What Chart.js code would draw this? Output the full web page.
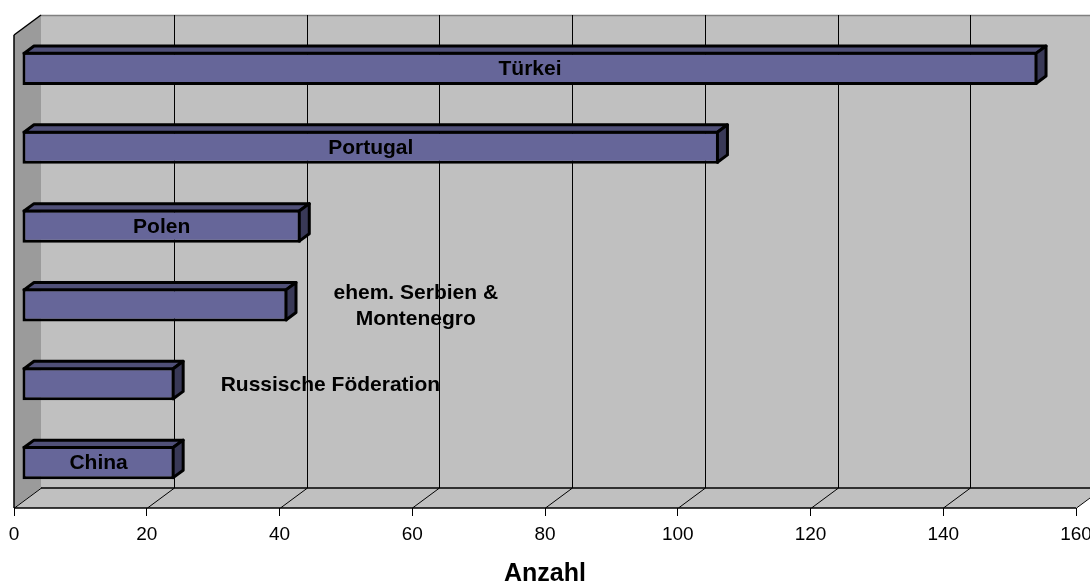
<!DOCTYPE html>
<html>
<head>
<meta charset="utf-8">
<title>Anzahl nach Staatsangehörigkeit</title>
<script src="https://cdn.jsdelivr.net/npm/chart.js@4.4.1/dist/chart.umd.min.js"></script>
<style>
    html, body { margin: 0; padding: 0; background: #fff; overflow: hidden; }
    #wrap { width: 1120px; height: 600px; }
</style>
</head>
<body>
<div id="wrap"><canvas id="chart" width="1120" height="600"></canvas></div>
<script>
// Chart data
const categories = ['Türkei', 'Portugal', 'Polen', ['ehem. Serbien &', 'Montenegro'], 'Russische Föderation', 'China'];
const values = [153, 105, 42, 40, 23, 23];
const xTicks = [0, 20, 40, 60, 80, 100, 120, 140, 160];
const axisTitle = 'Anzahl';

const FONT = '"Liberation Sans", Arial, sans-serif';

// 3D look: wall depth, bar position inside the depth, bar depth
const WALL_DX = 27, WALL_DY = 20;
const BAR_OFF_X = 8, BAR_OFF_Y = 6;
const BAR_DX = 10, BAR_DY = 7.4;

const WALL = '#c0c0c0';
const SIDE_WALL = '#9b9b9b';
const BAR_FRONT = '#666699';
const BAR_TOP = '#505078';
const BAR_SIDE = '#393957';

function poly(ctx, pts) {
    ctx.beginPath();
    ctx.moveTo(pts[0][0], pts[0][1]);
    for (let i = 1; i < pts.length; i++) ctx.lineTo(pts[i][0], pts[i][1]);
    ctx.closePath();
}

function line(ctx, x1, y1, x2, y2) {
    ctx.beginPath();
    ctx.moveTo(x1, y1);
    ctx.lineTo(x2, y2);
    ctx.stroke();
}

const wallsPlugin = {
    id: 'walls',
    beforeDraw(chart) {
        const { ctx, chartArea: a } = chart;
        const x = chart.scales.x;
        const x0 = x.getPixelForValue(xTicks[0]);
        const x1 = x.getPixelForValue(xTicks[xTicks.length - 1]);
        const top = a.top, bottom = a.bottom;

        ctx.save();
        // back wall
        ctx.fillStyle = WALL;
        ctx.fillRect(x0 + WALL_DX, top - WALL_DY, x1 - x0, bottom - top);
        // floor
        poly(ctx, [[x0, bottom], [x0 + WALL_DX, bottom - WALL_DY], [x1 + WALL_DX, bottom - WALL_DY], [x1, bottom]]);
        ctx.fill();
        // side wall
        ctx.fillStyle = SIDE_WALL;
        poly(ctx, [[x0, top], [x0 + WALL_DX, top - WALL_DY], [x0 + WALL_DX, bottom - WALL_DY], [x0, bottom]]);
        ctx.fill();

        // top edge of back wall
        ctx.strokeStyle = '#808080';
        ctx.lineWidth = 1.5;
        line(ctx, x0 + WALL_DX, top - WALL_DY + 0.5, x1 + WALL_DX, top - WALL_DY + 0.5);

        // gridlines on back wall and floor
        ctx.strokeStyle = '#000';
        ctx.lineWidth = 1;
        xTicks.forEach(v => {
            const px = Math.round(x.getPixelForValue(v)) + 0.5;
            if (v !== xTicks[0]) line(ctx, px + WALL_DX, top - WALL_DY, px + WALL_DX, bottom - WALL_DY);
            line(ctx, px, bottom, px + WALL_DX, bottom - WALL_DY);
        });

        // floor edges
        ctx.lineWidth = 1.5;
        line(ctx, x0 + WALL_DX, bottom - WALL_DY, x1 + WALL_DX, bottom - WALL_DY);
        line(ctx, x0, bottom, x1, bottom);
        // side wall edges
        line(ctx, x0, top, x0 + WALL_DX, top - WALL_DY);
        line(ctx, x0, top, x0, bottom);
        ctx.restore();
    }
};

const bars3dPlugin = {
    id: 'bars3d',
    beforeDatasetsDraw(chart) {
        chart.ctx.save();
        chart.ctx.translate(BAR_OFF_X, -BAR_OFF_Y);
    },
    afterDatasetsDraw(chart) {
        const ctx = chart.ctx;
        const meta = chart.getDatasetMeta(0);
        ctx.lineWidth = 3;
        ctx.strokeStyle = '#000';
        ctx.lineJoin = 'round';

        meta.data.forEach((bar, i) => {
            const p = bar.getProps(['x', 'y', 'base', 'height'], true);
            const left = Math.min(p.base, p.x), right = Math.max(p.base, p.x);
            const t = p.y - p.height / 2 + 1.5, b = p.y + p.height / 2 - 1.5;

            // top face
            poly(ctx, [[left + 1.5, t], [left + 1.5 + BAR_DX, t - BAR_DY], [right - 1.5 + BAR_DX, t - BAR_DY], [right - 1.5, t]]);
            ctx.fillStyle = BAR_TOP;
            ctx.fill();
            ctx.stroke();
            // right face
            poly(ctx, [[right - 1.5, t], [right - 1.5 + BAR_DX, t - BAR_DY], [right - 1.5 + BAR_DX, b - BAR_DY], [right - 1.5, b]]);
            ctx.fillStyle = BAR_SIDE;
            ctx.fill();
            ctx.stroke();

            // category label
            const lines = Array.isArray(categories[i]) ? categories[i] : [categories[i]];
            ctx.font = 'bold 21px ' + FONT;
            ctx.fillStyle = '#000';
            ctx.textBaseline = 'middle';
            ctx.textAlign = 'center';
            const w = Math.max(...lines.map(s => ctx.measureText(s).width));
            const lh = 26;
            let cx = (left + right) / 2;
            if (w > (right - left) * 0.5) cx = right + 46 + w / 2;
            lines.forEach((s, k) => {
                ctx.fillText(s, cx, p.y + (k - (lines.length - 1) / 2) * lh + 1);
            });
        });
        ctx.restore();
    }
};

new Chart(document.getElementById('chart'), {
    type: 'bar',
    data: {
        labels: categories,
        datasets: [{
            data: values,
            backgroundColor: BAR_FRONT,
            borderColor: '#000',
            borderWidth: 3,
            borderSkipped: false,
            categoryPercentage: 1,
            barPercentage: 0.42,
            clip: false
        }]
    },
    options: {
        indexAxis: 'y',
        responsive: false,
        animation: false,
        devicePixelRatio: 1,
        layout: { padding: { left: 14, top: 35, right: 44, bottom: 0 } },
        plugins: {
            legend: { display: false },
            tooltip: { enabled: false }
        },
        scales: {
            y: { display: false },
            x: {
                min: xTicks[0],
                max: xTicks[xTicks.length - 1],
                afterBuildTicks: scale => { scale.ticks = xTicks.map(v => ({ value: v })); },
                afterFit: scale => { scale.height = 92; },
                grid: { drawOnChartArea: false, drawTicks: true, tickLength: 8, color: '#000', lineWidth: 1 },
                border: { display: false },
                ticks: {
                    color: '#000',
                    padding: 7,
                    maxRotation: 0,
                    font: { family: FONT, size: 19 }
                },
                title: {
                    display: true,
                    text: axisTitle,
                    color: '#000',
                    font: { family: FONT, size: 25, weight: 'bold' },
                    padding: { top: 0, bottom: 11 }
                }
            }
        }
    },
    plugins: [wallsPlugin, bars3dPlugin]
});
</script>
</body>
</html>
